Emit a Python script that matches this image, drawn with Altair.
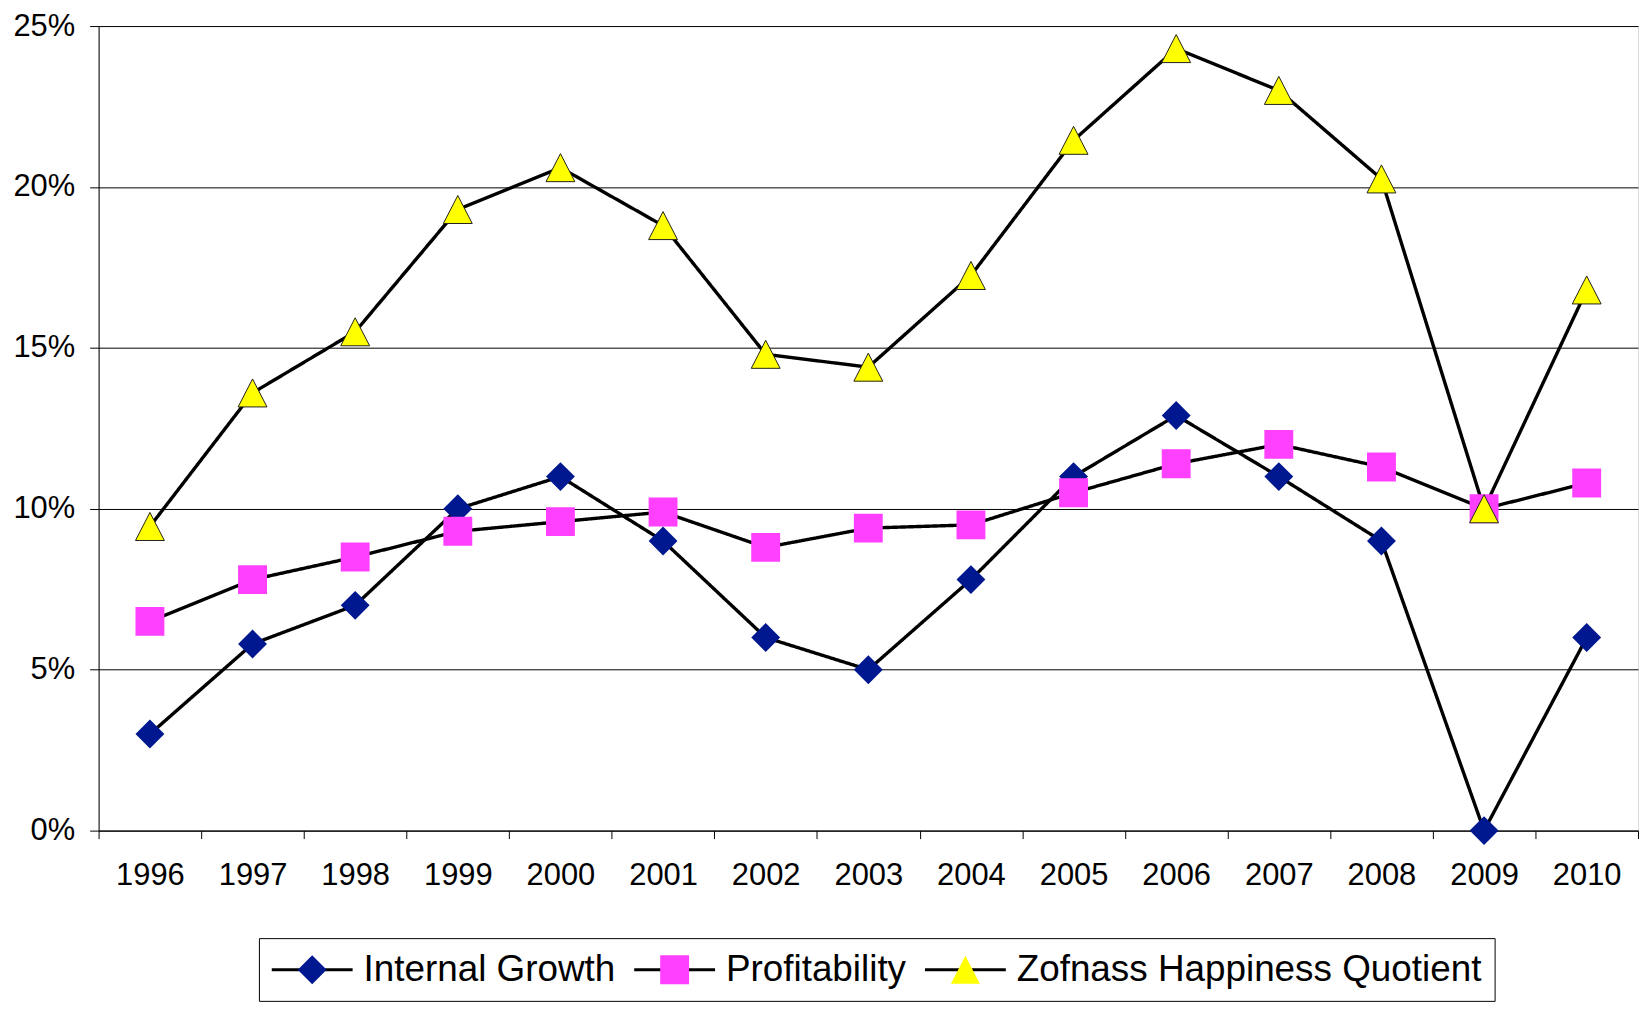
import altair as alt
import pandas as pd

years = [str(y) for y in range(1996, 2011)]
internal_growth = [3.0, 5.8, 7.0, 10.0, 11.0, 9.0, 6.0, 5.0, 7.8, 11.0, 12.9, 11.0, 9.0, 0.0, 6.0]
profitability = [6.5, 7.8, 8.5, 9.3, 9.6, 9.9, 8.8, 9.4, 9.5, 10.5, 11.4, 12.0, 11.3, 10.0, 10.8]
zofnass = [9.45, 13.6, 15.5, 19.3, 20.6, 18.8, 14.8, 14.4, 17.25, 21.45, 24.3, 23.0, 20.25, 10.0, 16.8]
series_names = ["Internal Growth", "Profitability", "Zofnass Happiness Quotient"]
series_colors = ["#00188F", "#FF40FF", "#FFFF00"]
y_ticks = [0, 0.05, 0.10, 0.15, 0.20, 0.25]

# invisible guide (zero-area, unstroked) so that legend entries of the marker
# legend have the same extent as the stroked line legend drawn beneath them
GUIDE = "M-3.24,0L3.0,0"
TRI = "M0,-0.97L1,0.97L-1,0.97Z"
marker_paths = [
    GUIDE + "M-1,0L0,-1L1,0L0,1Z",
    GUIDE + "M-1,-1L1,-1L1,1L-1,1Z",
    GUIDE + TRI,
]

rows = []
for name, vals in zip(series_names, [internal_growth, profitability, zofnass]):
    for yr, v in zip(years, vals):
        rows.append({"year": yr, "value": v / 100.0, "series": name, "series_l": name})
df = pd.DataFrame(rows)

FONT = "Liberation Sans"

x_enc = alt.X(
    "year:N",
    sort=years,
    scale=alt.Scale(type="band", paddingInner=0, paddingOuter=0),
    axis=alt.Axis(
        title=None, labelAngle=0, labelFont=FONT, labelFontSize=31, labelColor="black",
        tickBand="extent", tickSize=8, tickColor="black", domainColor="black",
        labelPadding=22, grid=False,
    ),
)
y_enc = alt.Y(
    "value:Q",
    scale=alt.Scale(domain=[0, 0.25], nice=False, zero=True),
    axis=alt.Axis(
        title=None, values=y_ticks, format=".0%", labelFont=FONT, labelFontSize=31,
        labelColor="black", tickSize=9, tickColor="black", domainColor="black",
        labelPadding=15, grid=True, gridColor="black", gridWidth=1,
    ),
)

common_legend = dict(
    title=None, orient="none", legendX=161, legendY=916, direction="horizontal",
    symbolSize=841, symbolOffset=22, labelFont=FONT, labelFontSize=37,
    labelOffset=33, labelLimit=1000, padding=13, columnPadding=12,
)

legend_lines = alt.Legend(
    symbolType="M-2.8,0L2.8,0", symbolStrokeWidth=3, symbolStrokeColor="black",
    symbolFillColor="transparent", labelOpacity=0, strokeColor="black",
    **common_legend,
)
legend_marks = alt.Legend(
    symbolStrokeWidth=0, symbolOpacity=1, labelColor="black", **common_legend,
)

base = alt.Chart(df)

lines = base.mark_line(color="black", strokeWidth=3.4).encode(
    x=x_enc,
    y=y_enc,
    strokeDash=alt.StrokeDash(
        "series_l:N", scale=alt.Scale(range=[[1, 0], [1, 0], [1, 0]]), legend=legend_lines
    ),
)

points = base.mark_point(filled=True, size=841, strokeWidth=0, opacity=1).encode(
    x=x_enc,
    y=y_enc,
    fill=alt.Fill("series:N", scale=alt.Scale(range=series_colors), legend=legend_marks),
    shape=alt.Shape("series:N", scale=alt.Scale(range=marker_paths), legend=legend_marks),
)

tri_outline = base.transform_filter(
    alt.datum.series == series_names[2]
).mark_point(
    filled=True, size=841, shape=TRI, fill="#FFFF00", stroke="#222222",
    strokeWidth=1, opacity=1,
).encode(x=x_enc, y=y_enc)

chart = alt.layer(lines, points, tri_outline).properties(
    width=1546,
    height=808,
    autosize=alt.AutoSizeParams(type="none"),
    padding={"left": 91, "top": 16, "right": 2, "bottom": 170},
).configure_view(stroke=None).configure(background="white")

chart.save("out.html", embed_options={"renderer": "svg", "actions": False})
